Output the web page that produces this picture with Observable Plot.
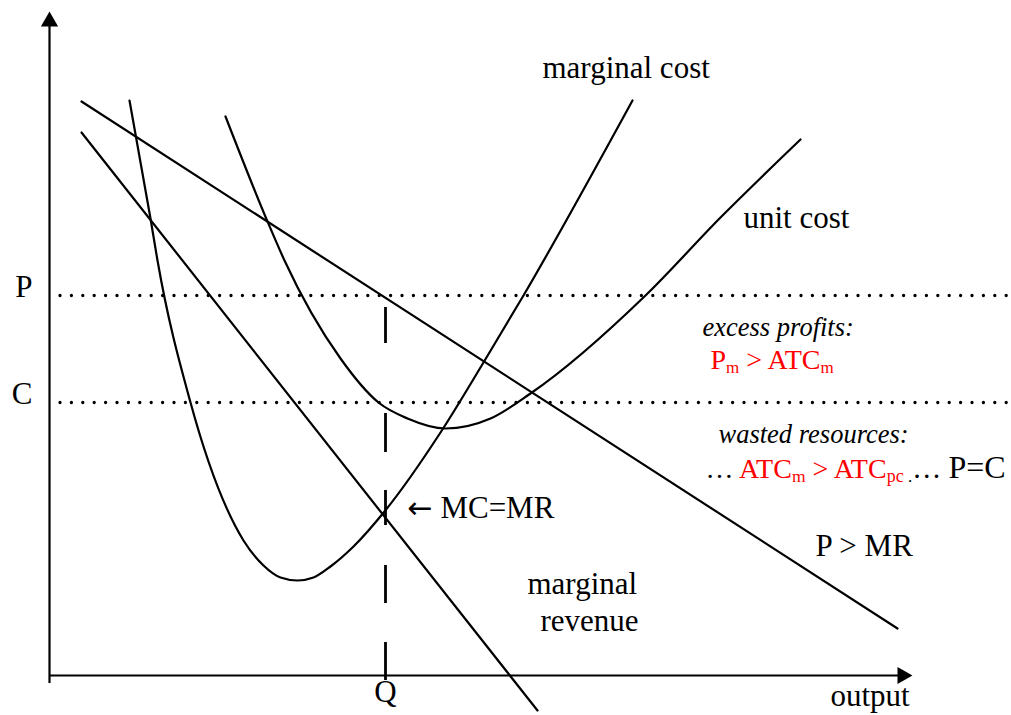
<!DOCTYPE html>
<html>
<head>
<meta charset="utf-8">
<script src="https://cdn.jsdelivr.net/npm/d3@7"></script>
<script src="https://cdn.jsdelivr.net/npm/@observablehq/plot@0.6"></script>
<style>
  html, body { margin: 0; padding: 0; background: #fff; }
  #chart { width: 1011px; height: 715px; overflow: hidden; }
</style>
</head>
<body>
<div id="chart"></div>
<script>
// ---- values (output q, price p) ----
const priceP = 38.0;   // monopoly price P
const costC = 27.3;    // unit cost C at Q
const outputQ = 33.6;  // quantity where MC = MR

const demandQ = [3.2, 84.8];
const demandP = [57.4, 4.7];

const mrQ = [3.2, 48.8];
const mrP = [54.3, -3.5];

const mcQ = [8.0, 10.1, 10.8, 14.1, 19.4, 21.4, 23.1, 24.8, 26.4, 28.1, 30.4, 33.5, 39.1, 43.4, 47.4, 58.3];
const mcP = [57.5, 45.7, 41.5, 27.3, 13.5, 11.0, 9.8, 9.5, 9.8, 10.9, 12.9, 16.4, 24.3, 31.3, 38.0, 57.5];

const atcQ = [17.6, 21.8, 23.5, 29.1, 32.9, 35.8, 39.6, 44.1, 48.1, 59.6, 67.1, 75.1];
const atcP = [55.9, 45.4, 41.5, 31.7, 27.3, 25.7, 24.7, 25.7, 28.2, 38.0, 45.8, 53.6];

const yTickLabels = ["P", "C"];
const xTickLabels = ["Q"];

// ---- tables built from the arrays ----
const zip = (qs, ps) => qs.map((q, i) => ({q, p: ps[i]}));
const demand = zip(demandQ, demandP);
const mr = zip(mrQ, mrP);
const mc = zip(mcQ, mcP);
const atc = zip(atcQ, atcP);
const yTicks = [{label: yTickLabels[0], v: priceP}, {label: yTickLabels[1], v: costC}];
const xTicks = [{label: xTickLabels[0], v: outputQ}];

// ---- annotations (anchor in data units, rich text parts) ----
const RED = "#ff0000";
const annotations = [
  {q: 49.3, p: 59.8, parts: [["marginal cost"]]},
  {q: 69.4, p: 44.8, parts: [["unit cost"]]},
  {q: 65.3, p: 34.0, parts: [["excess profits:", {italic: true, size: 26.5}]]},
  {q: 66.1, p: 30.7, parts: [["P", {fill: RED, size: 28}], ["m", {fill: RED, size: 17, sub: true}],
                             [" > ATC", {fill: RED, size: 28}], ["m", {fill: RED, size: 17, sub: true}]]},
  {q: 66.9, p: 23.3, parts: [["wasted resources:", {italic: true, size: 26.5}]]},
  {q: 65.6, p: 19.8, parts: [["\u2026 ", {size: 28}], ["ATC", {fill: RED, size: 28}], ["m", {fill: RED, size: 17.5, sub: true}],
                             [" > ATC", {fill: RED, size: 28}], ["pc", {fill: RED, size: 18, sub: true}], [" .", {size: 17, sub: true}],
                             ["\u2026 ", {size: 29}], ["P=C", {size: 32}]]},
  {q: 35.8, p: 15.8, parts: [["\u2190", {family: "'DejaVu Sans'", size: 30}], [" MC=MR"]]},
  {q: 76.6, p: 12.0, parts: [["P > MR"]]},
  {q: 47.8, p: 8.2, parts: [["marginal"]]},
  {q: 49.1, p: 4.5, parts: [["revenue"]]},
  {q: 78.1, p: -3.0, parts: [["output"]]}
];
const plainText = a => a.parts.map(d => d[0]).join("");

const chart = Plot.plot({
  width: 1011,
  height: 715,
  marginTop: 0, marginRight: 0, marginBottom: 0, marginLeft: 0,
  x: {domain: [-4.9, 96.2], axis: null},
  y: {domain: [-4, 67.5], axis: null},
  style: {fontFamily: "'Liberation Serif','Times New Roman',Times,serif", background: "white", overflow: "visible"},
  marks: [
    // dotted P and C levels
    Plot.ruleY(yTicks, {y: "v", x1: 1.1, x2: 96.2, stroke: "black", strokeWidth: 3.3,
      strokeDasharray: "0,11.4", strokeLinecap: "round"}),
    // dashed Q line
    Plot.ruleX(xTicks, {x: "v", y1: -0.5, y2: priceP, stroke: "black", strokeWidth: 2.8,
      strokeDasharray: "38,39,38,40,35,38,39,70,36,30"}),
    // curves
    Plot.line(demand, {x: "q", y: "p", stroke: "black", strokeWidth: 2.2}),
    Plot.line(mr, {x: "q", y: "p", stroke: "black", strokeWidth: 2.2}),
    Plot.line(mc, {x: "q", y: "p", stroke: "black", strokeWidth: 2.2, curve: "monotone-x"}),
    Plot.line(atc, {x: "q", y: "p", stroke: "black", strokeWidth: 2.2, curve: "monotone-x"}),
    // axes
    Plot.ruleX([0], {y1: -0.8, y2: 65.4, stroke: "black", strokeWidth: 2.2}),
    Plot.ruleY([0], {x1: 0, x2: 85.3, stroke: "black", strokeWidth: 2.2}),
    Plot.dot([{q: 0, p: 65.4, a: 0}, {q: 85.3, p: 0, a: 90}], {x: "q", y: "p", rotate: "a",
      symbol: "triangle", r: 6.4, fill: "black", stroke: "none"}),
    // tick labels
    Plot.text(yTicks, {x: -1.7, y: "v", text: "label", textAnchor: "end", lineAnchor: "bottom",
      dy: 1, fontSize: 31, fill: "black"}),
    Plot.text(xTicks, {x: "v", y: 0, text: "label", textAnchor: "middle", lineAnchor: "bottom",
      dy: 26, fontSize: 31, fill: "black"}),
    // annotations
    Plot.text(annotations, {x: "q", y: "p", text: plainText, textAnchor: "start", lineAnchor: "bottom",
      fontSize: 31, fill: "black"})
  ]
});

// rebuild rich labels as tspans (colour, italic, subscripts, font)
d3.select(chart).selectAll("text").each(function () {
  const t = this.textContent;
  const ann = annotations.find(a => plainText(a) === t);
  if (!ann) return;
  if (ann.parts.length === 1 && !ann.parts[0][1]) return;
  this.textContent = "";
  this.style.whiteSpace = "pre";
  let shift = 0;
  for (const [str, st = {}] of ann.parts) {
    const ts = document.createElementNS("http://www.w3.org/2000/svg", "tspan");
    const want = st.sub ? 4 : 0;
    if (want !== shift) { ts.setAttribute("dy", want - shift); shift = want; }
    ts.setAttribute("font-size", st.size ?? 31);
    if (st.fill) ts.setAttribute("fill", st.fill);
    if (st.italic) ts.setAttribute("font-style", "italic");
    if (st.family) ts.setAttribute("font-family", st.family);
    ts.textContent = str;
    this.appendChild(ts);
  }
});

document.getElementById("chart").appendChild(chart);
</script>
</body>
</html>
